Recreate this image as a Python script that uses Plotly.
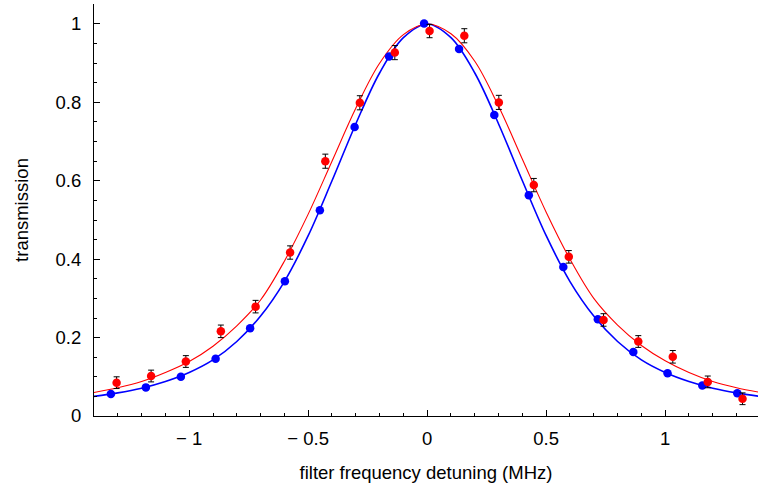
import plotly.graph_objects as go

# Measured data (blue, reference)
blue_x = [-1.329, -1.182, -1.035, -0.889, -0.744, -0.598, -0.451, -0.305, -0.160, -0.013,
          0.134, 0.282, 0.427, 0.572, 0.717, 0.866, 1.010, 1.156, 1.303]
blue_y = [0.056, 0.073, 0.100, 0.146, 0.224, 0.344, 0.525, 0.737, 0.917, 1.001,
          0.936, 0.768, 0.563, 0.380, 0.247, 0.163, 0.109, 0.078, 0.058]

# Measured data (red, with error bars)
red_x = [-1.305, -1.160, -1.014, -0.867, -0.721, -0.576, -0.428, -0.283, -0.136, 0.010,
         0.156, 0.301, 0.448, 0.595, 0.741, 0.887, 1.032, 1.179, 1.325]
red_y = [0.085, 0.102, 0.139, 0.216, 0.279, 0.417, 0.650, 0.799, 0.927, 0.982,
         0.970, 0.800, 0.589, 0.406, 0.245, 0.190, 0.151, 0.087, 0.044]
red_err = [0.015, 0.015, 0.015, 0.016, 0.016, 0.017, 0.018, 0.018, 0.018, 0.017,
           0.018, 0.018, 0.017, 0.016, 0.016, 0.015, 0.016, 0.015, 0.015]

# Fit curves
fit_x = [-1.40, -1.30, -1.20, -1.10, -1.00, -0.90, -0.80, -0.70, -0.60, -0.50, -0.40, -0.30,
         -0.20, -0.10, 0.00, 0.10, 0.20, 0.30, 0.40, 0.50, 0.60, 0.70, 0.80, 0.90, 1.00,
         1.10, 1.20, 1.30, 1.40]
blue_fit = [0.050, 0.059, 0.071, 0.088, 0.111, 0.143, 0.190, 0.255, 0.343, 0.460, 0.600, 0.745,
            0.875, 0.965, 1.000, 0.965, 0.875, 0.745, 0.600, 0.460, 0.343, 0.255, 0.190, 0.143,
            0.111, 0.088, 0.071, 0.059, 0.050]
red_fit = [0.060, 0.072, 0.088, 0.111, 0.139, 0.178, 0.230, 0.296, 0.395, 0.515, 0.650, 0.785,
           0.900, 0.973, 1.000, 0.975, 0.905, 0.790, 0.655, 0.520, 0.400, 0.300, 0.232, 0.180,
           0.141, 0.111, 0.088, 0.072, 0.060]

x_ticks = [-1, -0.5, 0, 0.5, 1]
x_ticktext = ["\u2212 1", "\u2212 0.5", "0", "0.5", "1"]
y_ticks = [0, 0.2, 0.4, 0.6, 0.8, 1]
y_ticktext = ["0", "0.2", "0.4", "0.6", "0.8", "1"]

BLUE = "#0000ff"
RED = "#ff0000"

fig = go.Figure()
fig.add_trace(go.Scatter(x=fit_x, y=blue_fit, mode="lines", line=dict(color=BLUE, width=1.6, shape="spline"),
                         showlegend=False, hoverinfo="skip"))
fig.add_trace(go.Scatter(x=fit_x, y=red_fit, mode="lines", line=dict(color=RED, width=1.1, shape="spline"),
                         showlegend=False, hoverinfo="skip"))
fig.add_trace(go.Scatter(x=blue_x, y=blue_y, mode="markers", marker=dict(color=BLUE, size=8.5),
                         showlegend=False))
fig.add_trace(go.Scatter(x=red_x, y=red_y, mode="markers", marker=dict(color=RED, size=8.5),
                         error_y=dict(type="data", array=red_err, visible=True, color="black",
                                      thickness=1, width=3),
                         showlegend=False))

axis_font = dict(family="Liberation Sans, Arial, sans-serif", size=18.5, color="black")

fig.update_layout(
    width=758, height=493,
    margin=dict(l=94, r=0, t=4, b=77),
    paper_bgcolor="white", plot_bgcolor="white",
    font=axis_font,
    xaxis=dict(
        range=[-1.40, 1.39], showgrid=False, zeroline=False, automargin=False,
        showline=True, linecolor="black", linewidth=1,
        tickmode="array", tickvals=x_ticks, ticktext=x_ticktext,
        ticks="inside", ticklen=6, tickcolor="black", tickwidth=1,
        ticklabelstandoff=6,
        minor=dict(tickmode="linear", tick0=0, dtick=0.1, ticks="inside", ticklen=3,
                   tickcolor="black", tickwidth=1),
        title=dict(text="filter frequency detuning (MHz)", font=axis_font, standoff=17),
    ),
    yaxis=dict(
        range=[0, 1.051], showgrid=False, zeroline=False, automargin=False,
        showline=True, linecolor="black", linewidth=1,
        tickmode="array", tickvals=y_ticks, ticktext=y_ticktext,
        ticks="inside", ticklen=6, tickcolor="black", tickwidth=1,
        ticklabelstandoff=8,
        minor=dict(tickmode="linear", tick0=0, dtick=0.05, ticks="inside", ticklen=3,
                   tickcolor="black", tickwidth=1),
        title=dict(text="transmission", font=axis_font, standoff=22),
    ),
)

fig.write_html("out.html", config={"displayModeBar": False},
               post_script="document.body.style.margin='0px';")
